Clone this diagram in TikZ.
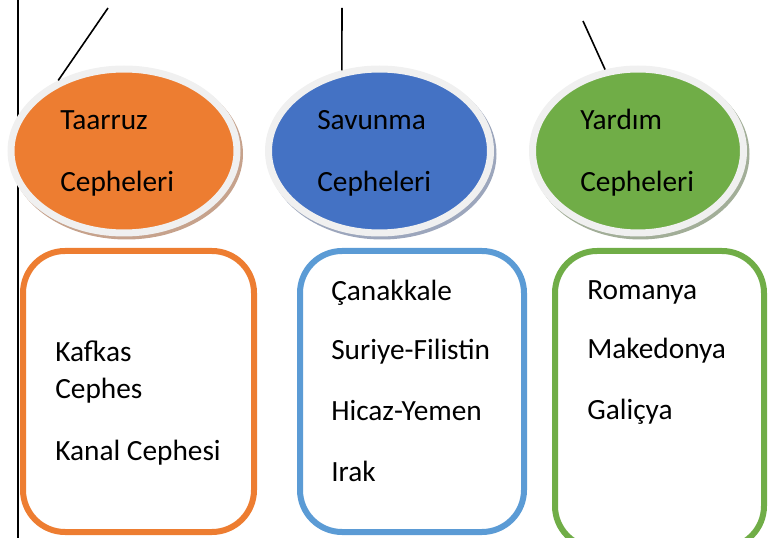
\documentclass[tikz,border=0pt]{standalone}
\usepackage{fontspec}
\setmainfont{Carlito}
\usetikzlibrary{shapes.geometric}

\definecolor{taarruzOrange}{HTML}{ED7D31}
\definecolor{savunmaBlue}{HTML}{4472C4}
\definecolor{yardimGreen}{HTML}{70AD47}
\definecolor{listeBlue}{HTML}{5B9BD5}
\definecolor{ellRim}{HTML}{F0F0F0}
\definecolor{orangeShadow}{HTML}{C6A28C}
\definecolor{blueShadow}{HTML}{9CA6BC}
\definecolor{greenShadow}{HTML}{A2AE98}

\tikzset{
  cephe/.style={ellipse, draw=ellRim, line width=5.25pt, minimum height=123pt, inner sep=0pt},
  liste/.style={rectangle, rounded corners=31.5pt, line width=4.5pt, fill=white, minimum height=210.75pt, inner sep=0pt},
  yazi/.style={anchor=base west, inner sep=0pt, font=\fontsize{22pt}{26pt}\selectfont},
  bag/.style={line width=1.2pt}
}

\begin{document}
\begin{tikzpicture}[x=0.75pt,y=0.75pt,yscale=-1,xscale=1]
		\useasboundingbox (0,0) rectangle (779,538);
		
		% Vertical line
		\draw [bag] (18,0) -- (18,538);
		
		% Shadows of the ellipses
		\fill [orangeShadow] (126.5,154) ellipse [x radius=116.5, y radius=85.5];
		\fill [blueShadow] (382,154) ellipse [x radius=114.5, y radius=85.5];
		\fill [greenShadow] (640.5,154) ellipse [x radius=109, y radius=85.5];
		
		% Ellipses
		\node [cephe, fill=taarruzOrange, minimum width=169.5pt] (taarruz) at (124,151) {};
		\node [cephe, fill=savunmaBlue, minimum width=166.5pt] (savunma) at (379.5,151) {};
		\node [cephe, fill=yardimGreen, minimum width=158.25pt] (yardim) at (638,151) {};
		
		% Connections
		\coordinate (taarruzUst) at (108,8);
		\coordinate (savunmaUst) at (342,8);
		\coordinate (yardimUst) at (583,21);
		\draw [bag] (taarruzUst) -- (taarruz.133);
		\draw [bag] (savunmaUst) -- (savunma.115);
		\draw [bag] (yardimUst) -- (yardim.112);
		
		% Text Nodes of the ellipses
		\node [yazi] (taarruz1) at (60,130) {Taarruz};
		\node [yazi] (taarruz2) at (60,192) {Cepheleri};
		\node [yazi] (savunma1) at (317,130) {Savunma};
		\node [yazi] (savunma2) at (317,192) {Cepheleri};
		\node [yazi] (yardim1) at (580,130) {Yardım};
		\node [yazi] (yardim2) at (580,192) {Cepheleri};
		
		% Boxes
		\node [liste, draw=taarruzOrange, minimum width=173.25pt] (kutuTaarruz) at (138.5,391.5) {};
		\node [liste, draw=listeBlue, minimum width=168pt] (kutuSavunma) at (412,391.5) {};
		\node [liste, draw=yardimGreen, minimum width=156.75pt, minimum height=222.75pt] (kutuYardim) at (659.5,399.5) {};
		
		% Text Nodes of the boxes
		\node [yazi] (kafkas1) at (55,362) {Kafkas};
		\node [yazi] (kafkas2) at (55,399) {Cephes};
		\node [yazi] (kanal) at (55,460) {Kanal Cephesi};
		\node [yazi] (canakkale) at (331,301) {Çanakkale};
		\node [yazi] (suriye) at (331,360) {Suriye-Filistin};
		\node [yazi] (hicaz) at (331,421) {Hicaz-Yemen};
		\node [yazi] (irak) at (331,481) {Irak};
		\node [yazi] (romanya) at (587,300) {Romanya};
		\node [yazi] (makedonya) at (587,359) {Makedonya};
		\node [yazi] (galicya) at (587,420) {Galiçya};
	\end{tikzpicture}
\end{document}
